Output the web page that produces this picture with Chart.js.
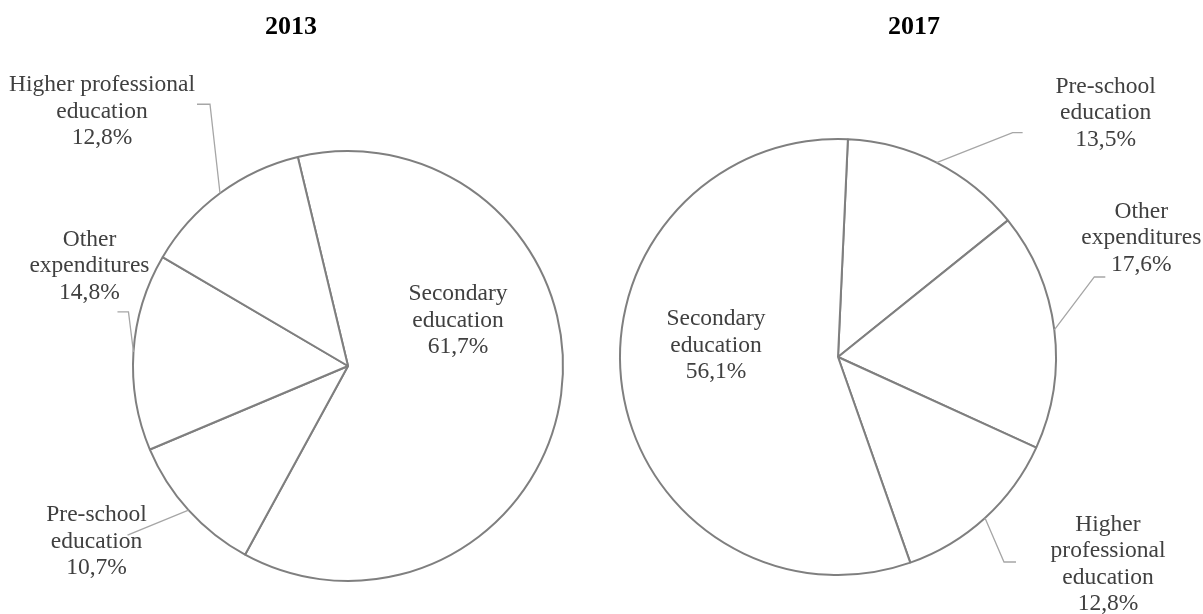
<!DOCTYPE html>
<html>
<head>
<meta charset="utf-8">
<script src="https://cdn.jsdelivr.net/npm/chart.js@4.4.1/dist/chart.umd.min.js"></script>
<style>
  body { margin: 0; background: #fff; }
  #wrap { position: relative; width: 1203px; height: 614px; }
  canvas { position: absolute; top: 0; }
</style>
</head>
<body>
<div id="wrap">
  <canvas id="chart2013" width="601" height="614" style="left:0"></canvas>
  <canvas id="chart2017" width="602" height="614" style="left:601px"></canvas>
</div>
<script>
// data
var years = ['2013', '2017'];

var categories2013 = ['Secondary education', 'Pre-school education', 'Other expenditures', 'Higher professional education'];
var values2013 = [61.7, 10.7, 14.8, 12.8];

var categories2017 = ['Pre-school education', 'Other expenditures', 'Higher professional education', 'Secondary education'];
var values2017 = [13.5, 17.6, 12.8, 56.1];

// how each label is broken into lines
var lines2013 = [['Secondary', 'education'], ['Pre-school', 'education'], ['Other', 'expenditures'], ['Higher professional', 'education']];
var lines2017 = [['Pre-school', 'education'], ['Other', 'expenditures'], ['Higher', 'professional', 'education'], ['Secondary', 'education']];

// label placement: inside labels are relative to the pie centre,
// outside labels relative to the point on the rim at the slice middle
var place2013 = [
    { inside: true, dx: 110, dy: -66 },
    { dx: -92, dy: 11, leader: [[-61, 25]] },
    { dx: -44, dy: -106, leader: [[-5, -40], [-16, -40]] },
    { dx: -118, dy: -102, leader: [[-10, -89], [-23, -89]] }
];
var place2017 = [
    { dx: 169, dy: -70, leader: [[76, -30], [86, -30]] },
    { dx: 87, dy: -112, leader: [[40, -53], [51, -53]] },
    { dx: 123, dy: 13, leader: [[19, 44], [31, 44]] },
    { inside: true, dx: -122, dy: -32 }
];

var FONT = '"Liberation Serif", "Times New Roman", serif';

function fmt(v) {
    return v.toFixed(1).replace('.', ',') + '%';
}

var pieLabels = {
    id: 'pieLabels',
    afterDraw: function(chart) {
        var o = chart.options.plugins.pieLabels;
        var ctx = chart.ctx;
        var meta = chart.getDatasetMeta(0);
        var values = chart.data.datasets[0].data;
        ctx.save();

        // title
        ctx.fillStyle = '#000';
        ctx.font = 'bold 26px ' + FONT;
        ctx.textAlign = 'center';
        ctx.textBaseline = 'alphabetic';
        ctx.fillText(o.title, o.titleX, 34);

        meta.data.forEach(function(arc, i) {
            var p = arc.getProps(['x', 'y', 'startAngle', 'endAngle', 'outerRadius'], true);
            var mid = (p.startAngle + p.endAngle) / 2;
            var ex = p.x + Math.cos(mid) * p.outerRadius;
            var ey = p.y + Math.sin(mid) * p.outerRadius;
            var pl = o.place[i];
            var bx = pl.inside ? p.x : ex;
            var by = pl.inside ? p.y : ey;

            if (pl.leader) {
                ctx.strokeStyle = '#a6a6a6';
                ctx.lineWidth = 1.3;
                ctx.beginPath();
                ctx.moveTo(ex, ey);
                pl.leader.forEach(function(pt) {
                    ctx.lineTo(ex + pt[0], ey + pt[1]);
                });
                ctx.stroke();
            }

            var txt = o.lines[i].concat([fmt(values[i])]);
            ctx.fillStyle = '#404040';
            ctx.font = '23.5px ' + FONT;
            ctx.textAlign = 'center';
            txt.forEach(function(t, k) {
                ctx.fillText(t, bx + pl.dx, by + pl.dy + k * 26.5);
            });
        });
        ctx.restore();
    }
};

function makePie(id, labels, values, rotation, radius, padding, title, titleX, lines, place) {
    var ctx = document.getElementById(id).getContext('2d');
    return new Chart(ctx, {
        type: 'pie',
        data: {
            labels: labels,
            datasets: [{
                data: values,
                backgroundColor: '#ffffff',
                borderColor: '#7f7f7f',
                borderWidth: 2,
                hoverOffset: 0
            }]
        },
        options: {
            responsive: false,
            animation: false,
            rotation: rotation,
            radius: radius,
            layout: { padding: padding },
            events: [],
            plugins: {
                legend: { display: false },
                tooltip: { enabled: false },
                pieLabels: { title: title, titleX: titleX, lines: lines, place: place }
            }
        },
        plugins: [pieLabels]
    });
}

makePie('chart2013', categories2013, values2013, -13.5, 215,
    { left: 110, right: 15, top: 121, bottom: 3 }, years[0], 291, lines2013, place2013);
makePie('chart2017', categories2017, values2017, 2.6, 218,
    { left: 5, right: 133, top: 102, bottom: 2 }, years[1], 313, lines2017, place2017);
</script>
</body>
</html>
